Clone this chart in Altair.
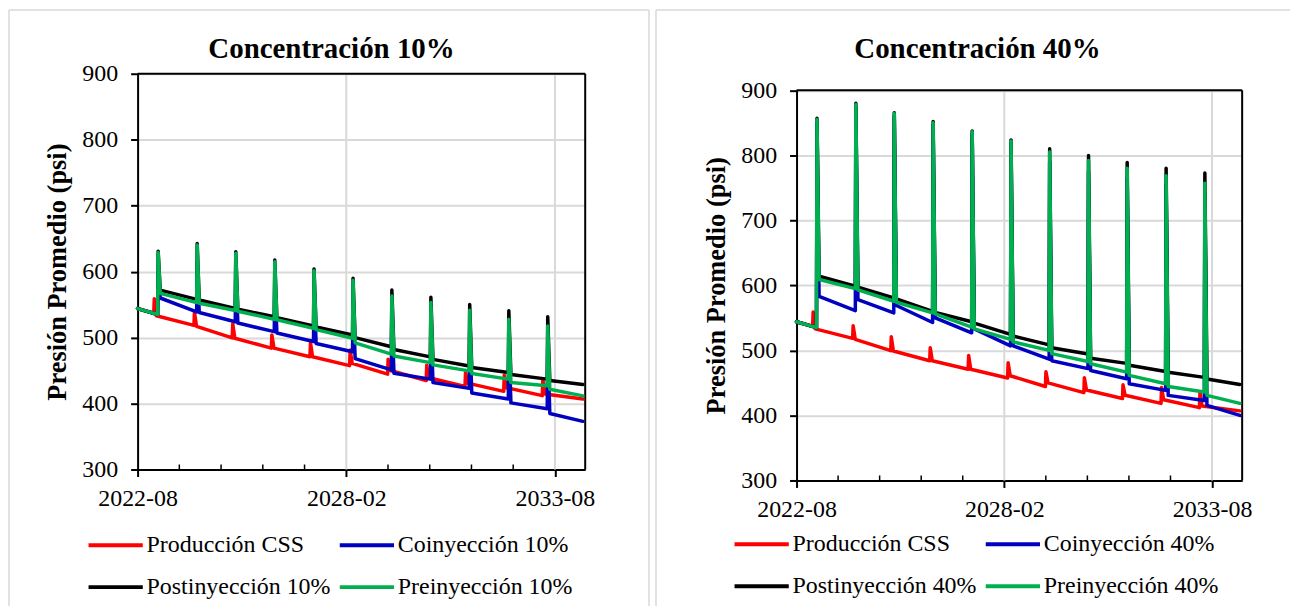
import altair as alt
import pandas as pd

SERIF = "Liberation Serif"
FRAME_GRAY = "#d9d9d9"

# ---------------- data ----------------
origin_date = pd.Timestamp("2022-08-27")   # left end of the x axis
start_pressure = 544                       # common starting pressure (psi)
end_day = 4268                             # last simulated day
axis_end_day = 4290                        # right end of x axis

major_tick_days = [0, 2000, 4000]          # 2022-08, 2028-02, 2033-08
minor_tick_days = [400, 800, 1200, 1600, 2400, 2800, 3200, 3600]
y_ticks = [300, 400, 500, 600, 700, 800, 900]
y_min, y_max = 300, 900

# injection cycles (days from origin)
spike_days = [192, 566, 936, 1310, 1686, 2060, 2432, 2806, 3178, 3553, 3926]
css_spike_days = [155, 540, 907, 1282, 1652, 2032, 2396, 2766, 3138, 3509, 3879]

# Producción CSS (same base case in both panels): value before, at peak, after each cycle
css_pre = [537, 518.5, 499.5, 484, 471, 457.5, 444.5, 435, 426, 418.5, 412]
css_peak = [559, 538, 521, 504, 492, 481, 467, 458, 447, 443, 436]
css_post = [533, 517, 499, 484, 471, 461, 450, 439, 431, 424, 414.5]
css_end = 407

# Concentración 10%
co10_pre = [535, 539, 524, 509, 494, 478.5, 451, 437, 423, 407, 392]
co10_peak = [600, 615, 605, 592, 578, 562, 543, 527, 511, 500, 487]
co10_post = [560, 538, 522, 507, 491, 468, 446, 432, 416, 401, 385]
co10_end = 373

post10_pre = [535, 558, 544, 531.5, 517.5, 504, 486, 470.7, 457, 447, 437]
post10_peak = [631, 642.5, 630, 617.5, 604, 590, 572, 561, 550, 540.5, 531.5]
post10_post = [572, 557, 543, 530, 516, 500, 482, 467, 454.5, 444, 435]
post10_end = 429

pre10_pre = [535, 553, 541, 527.6, 514, 499, 475, 462, 449.5, 437, 427]
pre10_peak = [629, 640.5, 628, 615, 601.5, 587, 563, 553, 541.4, 527.8, 517.7]
pre10_post = [567, 552, 540, 527, 512, 492, 472, 458.6, 445.5, 432, 421.7]
pre10_end = 411.6

# Concentración 40%
co40_pre = [535, 561, 557.6, 542.8, 527, 507, 486.5, 472, 456.4, 438.5, 423]
co40_peak = [850, 874, 860, 846, 832, 818, 790, 775, 765, 755, 743]
co40_post = [583, 578, 569, 550, 533, 507, 484, 469, 448.7, 430.8, 415.4]
co40_end = 400

post40_pre = [535, 598.5, 580.6, 560, 544, 524.5, 508.5, 494.5, 480, 467.5, 458.5]
post40_peak = [857, 880, 865.5, 851.7, 837.4, 823.6, 809.8, 799.6, 789, 780, 772.5]
post40_post = [614, 597, 579, 558.5, 542, 522, 504, 488, 477, 466.5, 456]
post40_end = 447.5

pre40_pre = [535, 595, 575.5, 557.7, 535.7, 516.8, 500, 482.8, 466.6, 448.7, 436]
pre40_peak = [855, 878, 864, 850, 836, 822, 805, 792, 780, 768.5, 757]
pre40_post = [609, 593, 574, 556, 533, 513, 495, 479.5, 461.5, 444.6, 430.8]
pre40_end = 418.5

names10 = ["Producción CSS", "Coinyección 10%", "Postinyección 10%", "Preinyección 10%"]
names40 = ["Producción CSS", "Coinyección 40%", "Postinyección 40%", "Preinyección 40%"]
colors = ["#FF0000", "#0000C0", "#000000", "#00B050"]


# ---------------- helpers ----------------
def to_date(d):
    return (origin_date + pd.Timedelta(days=d)).strftime("%Y-%m-%d")


def to_ms(d):
    return int((origin_date + pd.Timedelta(days=d)).value // 10**6)


def build_rows(name, days, pre, peak, post, end_value):
    pts = [(0, start_pressure)]
    for d, a, b, c in zip(days, pre, peak, post):
        pts += [(d, a), (d + 5, b), (d + 25, c)]
    pts.append((end_day, end_value))
    return [{"fecha": to_date(d), "serie": name, "presion": p} for d, p in pts]


def one_row():
    return alt.Data(values=[{}])


def panel(title_text, names, series, width, height, plot_top, title_dx,
          legend_x, legend_y, frames):
    rows = []
    for name, s in zip(names, series):
        rows += build_rows(name, *s)
    df = pd.DataFrame(rows)

    x_scale = alt.Scale(type="utc", domain=[to_ms(0), to_ms(axis_end_day)])
    y_scale = alt.Scale(domain=[y_min, y_max], range=[height, plot_top], nice=False, zero=False)

    x_enc = alt.X(
        "fecha:T",
        scale=x_scale,
        axis=alt.Axis(
            values=[to_ms(d) for d in major_tick_days],
            labelExpr="utcFormat(datum.value, '%Y-%m')",
            title=None, labelFont=SERIF, labelFontSize=24, labelColor="black",
            labelPadding=10, tickSize=7, tickWidth=2, tickColor="black",
            domainColor="black", domainWidth=2, grid=False,
            labelFlush=False, labelOverlap=False,
        ),
    )
    y_enc = alt.Y(
        "presion:Q",
        scale=y_scale,
        axis=alt.Axis(
            values=y_ticks, title="Presión Promedio (psi)", titleFont=SERIF,
            titleFontSize=26.5, titleFontWeight="bold", titleColor="black",
            titlePadding=10, labelFont=SERIF, labelFontSize=24, labelColor="black",
            labelPadding=13, tickSize=7, tickWidth=2, tickColor="black",
            domainColor="black", domainWidth=2, grid=True, gridColor=FRAME_GRAY,
            gridWidth=2,
        ),
    )
    color_enc = alt.Color(
        "serie:N",
        scale=alt.Scale(domain=names, range=colors),
        legend=alt.Legend(
            title=None, orient="none", legendX=legend_x, legendY=legend_y,
            direction="horizontal", columns=2, symbolType="M-2,0H2",
            symbolSize=740, symbolStrokeWidth=4, labelFont=SERIF,
            labelFontSize=24, labelColor="black", labelOffset=15, labelLimit=400,
            columnPadding=0, rowPadding=14, padding=0,
        ),
    )

    layers = []
    # light chart-area frame
    for f in frames:
        layers.append(
            alt.Chart(one_row()).mark_rule(color=FRAME_GRAY, strokeWidth=1.5).encode(**f)
        )
    # vertical gridlines at the labelled dates
    grid_df = pd.DataFrame({"fecha": [to_date(d) for d in major_tick_days[1:]]})
    layers.append(
        alt.Chart(grid_df).mark_rule(color=FRAME_GRAY, strokeWidth=2).encode(
            x=x_enc, y=alt.datum(y_max), y2=alt.datum(y_min)
        )
    )
    # minor ticks pointing inward
    ticks_df = pd.DataFrame({"fecha": [to_date(d) for d in minor_tick_days]})
    layers.append(
        alt.Chart(ticks_df)
        .mark_rule(color="black", strokeWidth=1.5)
        .encode(x=x_enc, y=alt.value(height), y2=alt.value(height - 5))
    )
    # black plot frame (top and right)
    layers.append(
        alt.Chart(one_row()).mark_rule(color="black", strokeWidth=2).encode(
            x=alt.value(0), x2=alt.value(width), y=alt.datum(y_max)
        )
    )
    layers.append(
        alt.Chart(one_row()).mark_rule(color="black", strokeWidth=2).encode(
            x=alt.value(width), y=alt.datum(y_max), y2=alt.datum(y_min)
        )
    )
    for name in names:
        layers.append(
            alt.Chart(df)
            .transform_filter(alt.datum.serie == name)
            .mark_line(strokeWidth=3.5, strokeJoin="round", strokeCap="round")
            .encode(x=x_enc, y=y_enc, color=color_enc)
        )
    return alt.layer(*layers).properties(
        width=width,
        height=height,
        title=alt.TitleParams(
            title_text, font=SERIF, fontSize=29, fontWeight="bold", color="black",
            anchor="middle", offset=-55, dx=title_dx,
        ),
    )


left = panel(
    "Concentración 10%", names10,
    [
        (css_spike_days, css_pre, css_peak, css_post, css_end),
        (spike_days, co10_pre, co10_peak, co10_post, co10_end),
        (spike_days, post10_pre, post10_peak, post10_post, post10_end),
        (spike_days, pre10_pre, pre10_peak, pre10_post, pre10_end),
    ],
    width=449, height=397, plot_top=0, title_dx=-30,
    legend_x=-38, legend_y=457,
    frames=[
        {"x": alt.value(-129), "y": alt.value(-64), "y2": alt.value(534)},
        {"x": alt.value(-129), "x2": alt.value(513), "y": alt.value(-64)},
        {"x": alt.value(513), "y": alt.value(-64), "y2": alt.value(534)},
    ],
)

right = panel(
    "Concentración 40%", names40,
    [
        (css_spike_days, css_pre, css_peak, css_post, css_end),
        (spike_days, co40_pre, co40_peak, co40_post, co40_end),
        (spike_days, post40_pre, post40_peak, post40_post, post40_end),
        (spike_days, pre40_pre, pre40_peak, pre40_post, pre40_end),
    ],
    width=447, height=408, plot_top=16.5, title_dx=-42,
    legend_x=-51, legend_y=456,
    frames=[
        {"x": alt.value(-141), "y": alt.value(-64), "y2": alt.value(534)},
        {"x": alt.value(-141), "x2": alt.value(495), "y": alt.value(-64)},
    ],
)

chart = (
    alt.concat(left, right, columns=2, spacing=5)
    .resolve_scale(x="independent", y="independent", color="independent")
    .resolve_legend(color="independent")
    .properties(padding=0, background="white", align="none", bounds="full")
    .configure_view(strokeWidth=0)
)

chart.save("out.html", embed_options={"renderer": "svg", "actions": False})
